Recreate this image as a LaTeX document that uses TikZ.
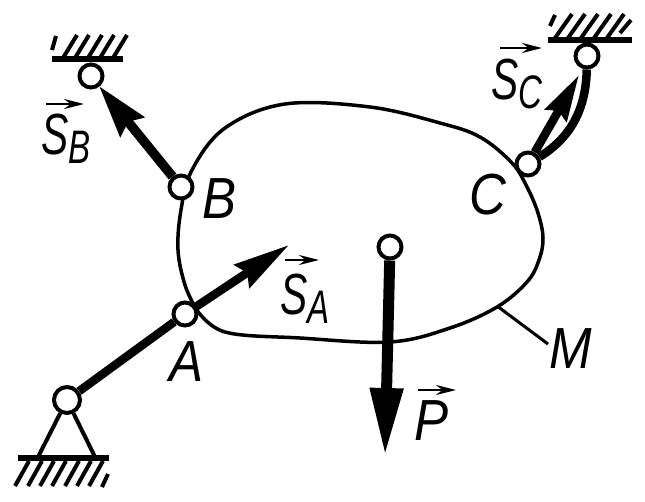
\documentclass[tikz,border=0pt]{standalone}
\usepackage{fontspec}
\setmainfont{Liberation Sans}
\usetikzlibrary{arrows.meta}
\newcommand{\lowidx}[1]{\raisebox{-9pt}{\fontsize{47}{47}\selectfont #1}}
\tikzset{
    hinge/.style={circle,draw,fill=white,line width=4pt,inner sep=0pt,minimum size=#1},
    rod/.style={line width=8.5pt},
    outline/.style={line width=3.5pt},
    ground/.style={line width=5.5pt},
    hatch/.style={line width=4pt},
    letter/.style={inner sep=0pt,xscale=0.88,font=\fontsize{58}{58}\selectfont\itshape},
    force/.style={letter,xscale=0.8,anchor=base west},
    overarrow/.style={line width=2.5pt,-{Stealth[length=20pt,width=10pt]}}
}
\begin{document}
\begin{tikzpicture}[x=1pt,y=-1pt]
    \useasboundingbox (0,0) rectangle (645,501);

    % Body
    \draw[outline] plot[smooth,tension=0.6] coordinates {(196,309) (185,285) (178,250) (181,210) (192,170) (225,128) (285,104) (370,107) (440,123) (480,137) (512,163) (527,187) (538,213) (543,238) (539,260) (527,282) (497,307) (450,328) (390,342) (300,338) (225,332) (196,309)};

    % Hinges
    \node[hinge=26pt] (base) at (67,400) {};
    \node[hinge=23pt] (A) at (185,314) {};
    \node[hinge=23pt] (B) at (181,187) {};
    \node[hinge=23pt] (C) at (528,164) {};
    \node[hinge=23pt] (topB) at (91,76) {};
    \node[hinge=23pt] (topC) at (587,56) {};
    \node[hinge=23pt] (G) at (390,247) {};

    % Free ends of the arrows
    \coordinate (tipA) at (289,245);
    \coordinate (tipB) at (99,86);
    \coordinate (tipC) at (579,75);
    \coordinate (tipP) at (385,456);
    \coordinate (tipM) at (497,306);
    \coordinate (footL) at (38,457);
    \coordinate (footR) at (95,457);

    % Rods and forces
    \draw[rod] (base) -- (A);
    \draw[rod,-{Stealth[length=56pt,width=27pt,inset=6pt]}] (A) -- (tipA);
    \draw[rod,line width=9.5pt,-{Stealth[length=52pt,width=30pt,inset=6pt]}] (B) -- (tipB);
    \draw[rod,-{Stealth[length=46pt,width=24pt,inset=5pt]}] (C) -- (tipC);
    \draw[rod] (C) .. controls (570,138) and (586,110) .. (topC);
    \draw[rod,line width=11pt,-{Stealth[length=68pt,width=31pt,inset=0pt]}] (G) -- (tipP);

    % Supports
    \draw[hatch] (base) -- (footL);
    \draw[hatch] (base) -- (footR);
    \draw[ground] (18,458) -- (109,458);
    \foreach \x in {15,28,40,52,65,77,89}
        \draw[hatch] (\x,486) -- ++(14,-25);
    \draw[hatch] (102,487) -- (108,474);

    \draw[ground] (52,59) -- (123,59);
    \foreach \x in {63,75,88,100,113}
        \draw[hatch] (\x,58) -- ++(14,-23);
    \draw[hatch] (52,50) -- (56,36);

    \draw[ground] (548,40) -- (632,40);
    \foreach \x in {555,568,581,594,607}
        \draw[hatch] (\x,38) -- ++(17,-24);
    \draw[hatch] (620,33) -- (631,20);
    \draw[hatch] (550,26) -- (555,15);

    % Leader of M
    \draw[line width=3pt] (tipM) -- (548,344);

    % Labels
    \node[letter] (labA) at (187,362) {A};
    \node[letter] (labB) at (220,199) {B};
    \node[letter] (labC) at (488,195) {C};
    \node[letter] (labM) at (571,349) {M};
    \node[letter] (labP) at (432,421) {P};
    \node[force] (labSA) at (280,314) {S\lowidx{A}};
    \node[force] (labSB) at (41,154) {S\lowidx{B}};
    \node[force] (labSC) at (491,99) {S\lowidx{C}};

    % Vector signs
    \draw[overarrow] (285,260) -- (319,260);
    \draw[overarrow] (46,104) -- (84,104);
    \draw[overarrow] (500,48) -- (542,48);
    \draw[overarrow] (418,390) -- (456,390);
\end{tikzpicture}
\end{document}
